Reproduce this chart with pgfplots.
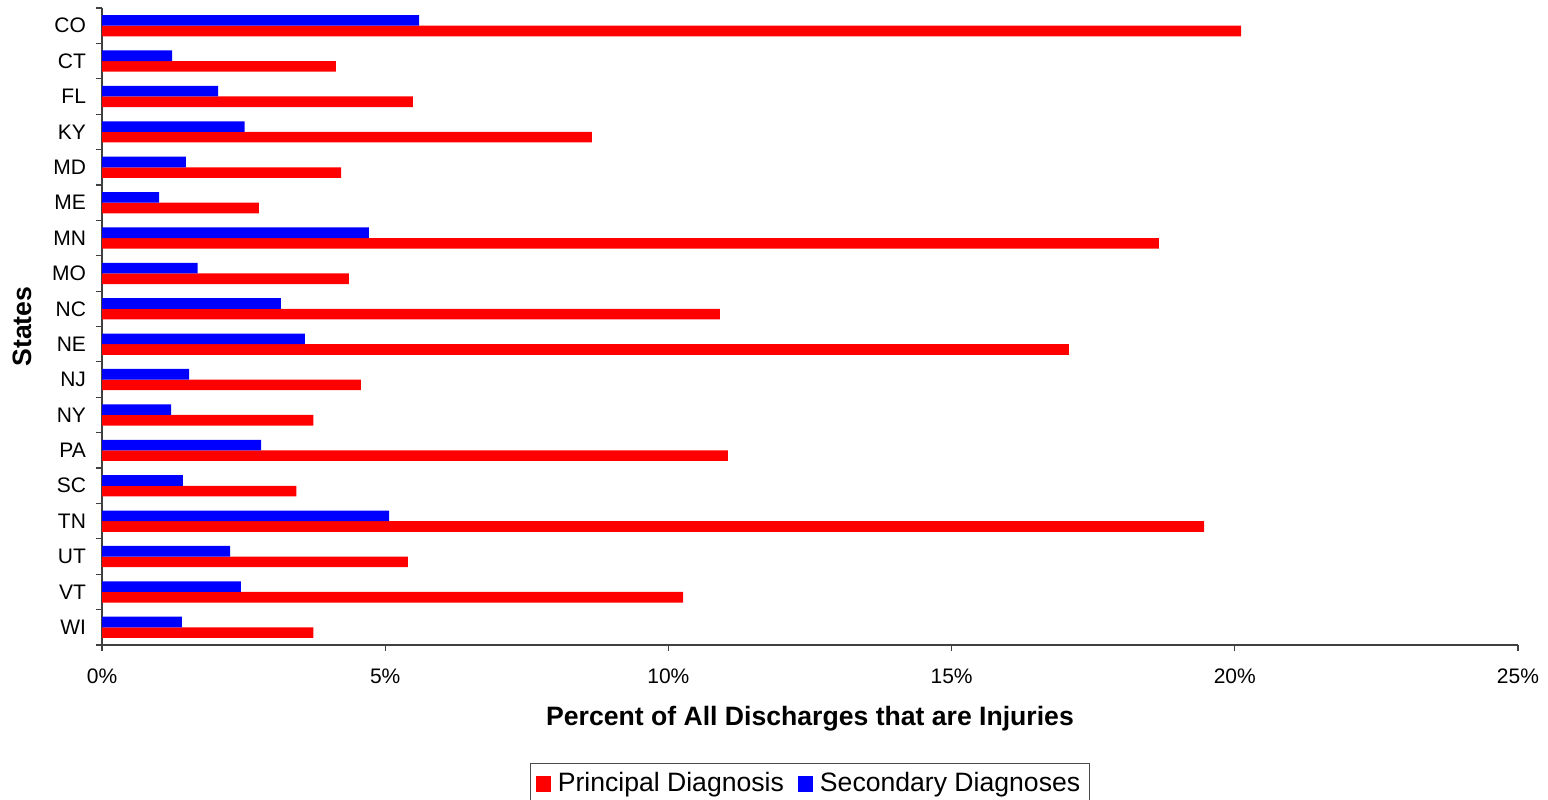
\documentclass[border=0pt]{standalone}
\usepackage{fontspec}
\setmainfont{Liberation Sans}
\usepackage{pgfplots}
\pgfplotsset{compat=1.18}
\begin{document}
\begin{tikzpicture}[x=1pt,y=1pt]
\useasboundingbox (0,0) rectangle (774,399.5);
\begin{axis}[
  at={(51pt,77pt)}, anchor=south west,
  scale only axis, width=708pt, height=318.5pt,
  xmin=0, xmax=25, ymin=-0.5, ymax=17.5, y dir=reverse,
  axis x line*=bottom, axis y line*=left,
  axis line style={black!75, line width=0.6pt, -},
  xtick={0,5,10,15,20,25},
  xticklabels={0\%,5\%,10\%,15\%,20\%,25\%},
  xtick align=outside, major tick length=3pt,
  xtick style={black!75, line width=0.6pt},
  ytick={0,...,17},
  yticklabels={CO,CT,FL,KY,MD,ME,MN,MO,NC,NE,NJ,NY,PA,SC,TN,UT,VT,WI},
  major y tick style={draw=none},
  minor ytick={-0.5,0.5,...,17.5},
  minor tick length=3pt,
  minor y tick style={draw=black!75, line width=0.6pt},
  ytick align=outside,
  tick label style={font=\fontsize{10.5}{12}\selectfont},
  xticklabel style={yshift=-5.5pt},
  yticklabel style={xshift=-1.5pt},
  /pgf/number format/assume math mode=true,
  xlabel={\bfseries Percent of All Discharges that are Injuries},
  ylabel={\bfseries States},
  label style={font=\fontsize{13.3}{15}\selectfont},
  xlabel style={at={([yshift=-37pt]axis description cs:0.5,0)}, anchor=center},
  ylabel style={at={([xshift=-40pt]axis description cs:0,0.5)}, anchor=center},
  xbar, bar width=0.3,
  legend columns=2,
  legend style={at={([yshift=-59pt]axis description cs:0.5,0)}, anchor=north,
    draw=black!70, line width=0.6pt, font=\fontsize{13.3}{15}\selectfont,
    inner sep=2.5pt,
    /tikz/every odd column/.append style={column sep=1.5pt},
    /tikz/every even column/.append style={column sep=5pt}},
  legend image code/.code={\fill[#1] (0pt,-4pt) rectangle (7.5pt,4pt);},
]
\addplot[fill={rgb,255:red,255;green,0;blue,0}, draw=none, bar shift=0.15] coordinates {
(20.11,0) (4.13,1) (5.49,2) (8.65,3) (4.22,4) (2.77,5) (18.66,6) (4.36,7) (10.91,8)
(17.07,9) (4.57,10) (3.73,11) (11.05,12) (3.43,13) (19.46,14) (5.40,15) (10.26,16) (3.73,17)};
\addlegendentry{Principal Diagnosis}
\addplot[fill={rgb,255:red,0;green,0;blue,255}, draw=none, bar shift=-0.15] coordinates {
(5.60,0) (1.24,1) (2.05,2) (2.52,3) (1.48,4) (1.01,5) (4.71,6) (1.69,7) (3.16,8)
(3.58,9) (1.54,10) (1.22,11) (2.81,12) (1.43,13) (5.07,14) (2.26,15) (2.45,16) (1.41,17)};
\addlegendentry{Secondary Diagnoses}
\end{axis}
\end{tikzpicture}
\end{document}
